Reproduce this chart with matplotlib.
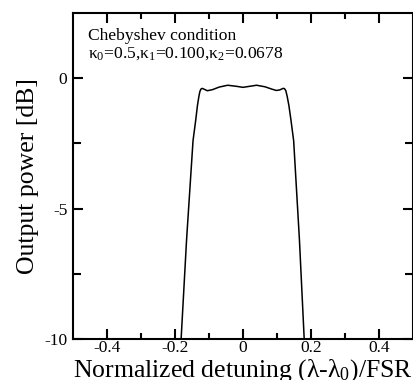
import numpy as np
import matplotlib
matplotlib.use("Agg")
import matplotlib.pyplot as plt

plt.rcParams["font.family"] = ["Liberation Serif", "DejaVu Serif"]
plt.rcParams["mathtext.fontset"] = "custom"
plt.rcParams["mathtext.rm"] = "Liberation Serif"
plt.rcParams["mathtext.it"] = "Liberation Serif:italic"

# Output power of the filter (dB vs normalized detuning)
detuning = [-0.182, -0.166, -0.147, -0.139, -0.134, -0.130, -0.127, -0.124,
            -0.120, -0.113, -0.105, -0.09, -0.07, -0.045, -0.02, 0.0, 0.02,
            0.04, 0.065, 0.085, 0.098, 0.108, 0.118, 0.122, 0.126, 0.130,
            0.135, 0.141, 0.149, 0.166, 0.18]
power_db = [-10.0, -6.2, -2.4, -1.6, -1.05, -0.72, -0.52, -0.42,
            -0.39, -0.43, -0.48, -0.44, -0.34, -0.27, -0.31, -0.35, -0.31,
            -0.27, -0.33, -0.42, -0.47, -0.45, -0.39, -0.40, -0.48, -0.70,
            -1.05, -1.6, -2.4, -6.2, -10.0]

xticks = [-0.4, -0.2, 0, 0.2, 0.4]
xticklabels = ["-0.4", "-0.2", "0", "0.2", "0.4"]
yticks = [-10, -5, 0]
yticklabels = ["-10", "-5", "0"]

fig = plt.figure(figsize=(4.14, 3.80), dpi=100)
ax = fig.add_axes([73 / 414, 41 / 380, 340 / 414, 326 / 380])

ax.plot(detuning, power_db, color="black", lw=1.1)

ax.set_xlim(-0.5, 0.5)
ax.set_ylim(-10, 2.5)
ax.set_xticks(xticks)
ax.set_xticklabels(xticklabels)
ax.set_xticks([-0.3, -0.1, 0.1, 0.3], minor=True)
ax.set_yticks(yticks)
ax.set_yticklabels(yticklabels)
ax.set_yticks([-7.5, -2.5], minor=True)

ax.tick_params(which="both", direction="in", top=True, right=True,
               width=1.5, labelsize=12.5)
ax.tick_params(which="major", length=7)
ax.tick_params(axis="x", which="major", pad=1)
ax.tick_params(axis="y", which="major", pad=4)
ax.tick_params(axis="x", which="minor", length=4)
ax.tick_params(axis="y", which="minor", length=6)
for sp in ax.spines.values():
    sp.set_linewidth(1.5)

ax.set_xlabel("Normalized detuning (λ-λ$_0$)/FSR", fontsize=18.5, labelpad=0.5)
ax.set_ylabel("Output power [dB]", fontsize=18.5, labelpad=4)

ax.text(0.045, 0.955, "Chebyshev condition\nκ$_0$=0.5,κ$_1$=0.100,κ$_2$=0.0678",
        transform=ax.transAxes, ha="left", va="top", fontsize=12.6,
        linespacing=1.15)

fig.savefig("out.png", dpi=100)
